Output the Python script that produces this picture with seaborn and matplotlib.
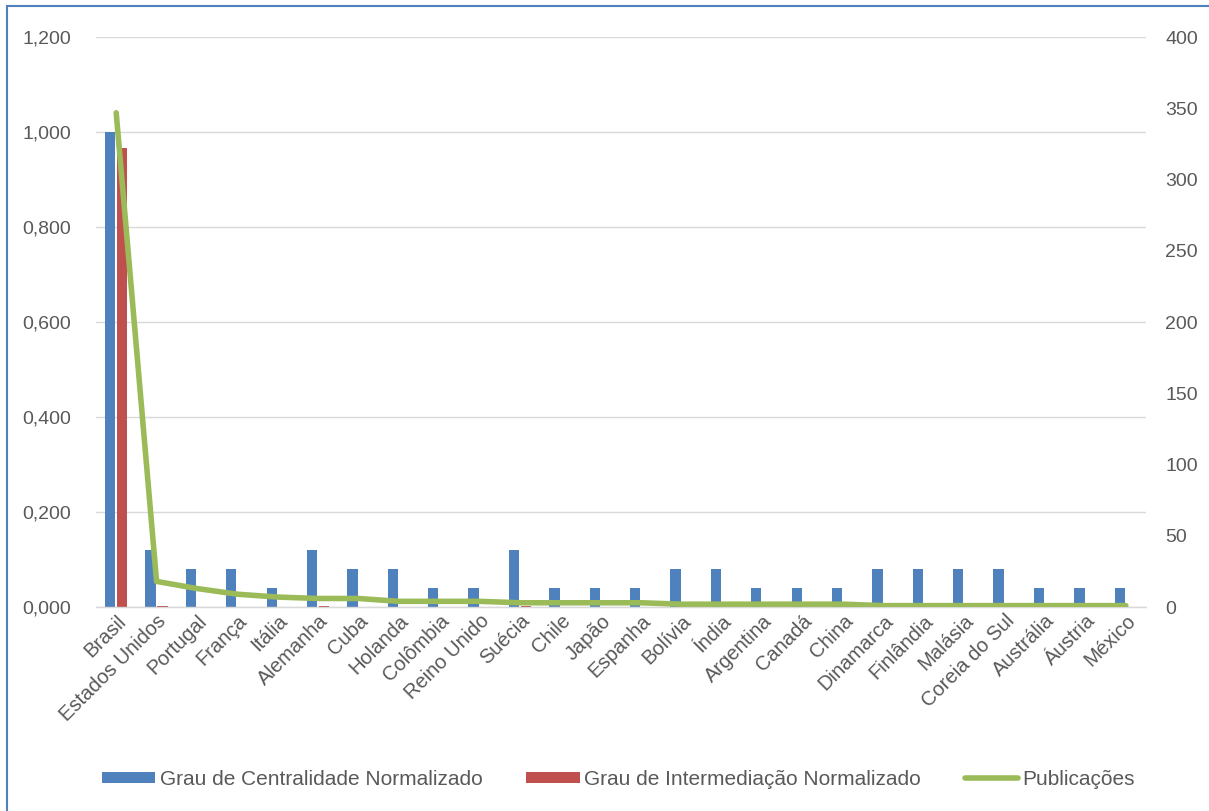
import numpy as np
import pandas as pd
import matplotlib
matplotlib.use("Agg")
import matplotlib.pyplot as plt
from matplotlib.patches import Rectangle
from matplotlib.lines import Line2D
import seaborn as sns

paises = ["Brasil", "Estados Unidos", "Portugal", "França", "Itália", "Alemanha",
          "Cuba", "Holanda", "Colômbia", "Reino Unido", "Suécia", "Chile", "Japão",
          "Espanha", "Bolívia", "Índia", "Argentina", "Canadá", "China", "Dinamarca",
          "Finlândia", "Malásia", "Coreia do Sul", "Austrália", "Áustria", "México"]

centralidade = [1.000, 0.120, 0.080, 0.080, 0.040, 0.120, 0.080, 0.080, 0.040, 0.040,
                0.120, 0.040, 0.040, 0.040, 0.080, 0.080, 0.040, 0.040, 0.040, 0.080,
                0.080, 0.080, 0.080, 0.040, 0.040, 0.040]

intermediacao = [0.967, 0.002, 0.0, 0.0, 0.0, 0.002, 0.0, 0.0, 0.0, 0.0,
                 0.003, 0.0, 0.0, 0.0, 0.0, 0.0, 0.0, 0.0, 0.0, 0.0,
                 0.0, 0.0, 0.0, 0.0, 0.0, 0.0]

publicacoes = [347, 18, 13, 9, 7, 6, 6, 4, 4, 4, 3, 3, 3, 3, 2, 2, 2, 2, 2, 1,
               1, 1, 1, 1, 1, 1]

serie_c = "Grau de Centralidade Normalizado"
serie_i = "Grau de Intermediação Normalizado"
serie_p = "Publicações"

azul = "#4F81BD"
vermelho = "#C0504D"
verde = "#9BBB59"
cinza_txt = "#595959"
cinza_grade = "#D9D9D9"

sns.set_theme(style="white")
plt.rcParams["font.family"] = ["Liberation Sans", "DejaVu Sans"]

df = pd.DataFrame({
    "pais": paises * 2,
    "valor": centralidade + intermediacao,
    "serie": [serie_c] * len(paises) + [serie_i] * len(paises),
})

fig = plt.figure(figsize=(12.09, 8.11), dpi=100)
ax = fig.add_axes([0.0794, 0.2515, 0.8685, 0.7025])

sns.barplot(data=df, x="pais", y="valor", hue="serie", order=paises,
            hue_order=[serie_c, serie_i], palette=[azul, vermelho],
            width=0.6, gap=0.15, linewidth=0, ax=ax, legend=False, saturation=1)

ax.set_ylim(0, 1.2)
ax.set_yticks(np.arange(0, 1.21, 0.2))
ax.set_yticklabels([f"{v:.3f}".replace(".", ",") for v in np.arange(0, 1.21, 0.2)])
ax.set_xlim(-0.5, len(paises) - 0.5)
ax.grid(axis="y", color=cinza_grade, linewidth=1)
ax.set_axisbelow(True)
for s in ["top", "right", "left"]:
    ax.spines[s].set_visible(False)
ax.spines["bottom"].set_color(cinza_grade)
ax.spines["bottom"].set_linewidth(1)
ax.set_xlabel("")
ax.set_ylabel("")
ax.tick_params(axis="y", length=0, labelsize=14, labelcolor=cinza_txt, pad=18)
ax.tick_params(axis="x", length=0, labelsize=14.5, labelcolor=cinza_txt, pad=3)
plt.setp(ax.get_xticklabels(), rotation=45, ha="right", rotation_mode="anchor")

ax2 = ax.twinx()
sns.lineplot(x=np.arange(len(paises)), y=publicacoes, ax=ax2, color=verde,
             linewidth=4, solid_capstyle="round", solid_joinstyle="round")
ax2.set_ylim(0, 400)
ax2.set_yticks(np.arange(0, 401, 50))
ax2.tick_params(axis="y", length=0, labelsize=14, labelcolor=cinza_txt, pad=14)
for s in ["top", "right", "left", "bottom"]:
    ax2.spines[s].set_visible(False)
ax2.set_ylabel("")

handles = [
    Rectangle((0, 0), 1, 1, facecolor=azul, edgecolor="none"),
    Rectangle((0, 0), 1, 1, facecolor=vermelho, edgecolor="none"),
    Line2D([0], [0], color=verde, linewidth=4, solid_capstyle="round"),
]
fig.legend(handles, [serie_c, serie_i, serie_p], loc="center",
           bbox_to_anchor=(0.5116, 0.039), ncol=3, frameon=False,
           fontsize=15, labelcolor=cinza_txt, handlelength=2.55,
           handleheight=0.5, handletextpad=0.22, columnspacing=2.1)

fig.patches.append(Rectangle((0.006, -0.02), 1.05, 1.012, transform=fig.transFigure,
                             fill=False, edgecolor=azul, linewidth=1.5))

fig.savefig("out.png", dpi=100)
